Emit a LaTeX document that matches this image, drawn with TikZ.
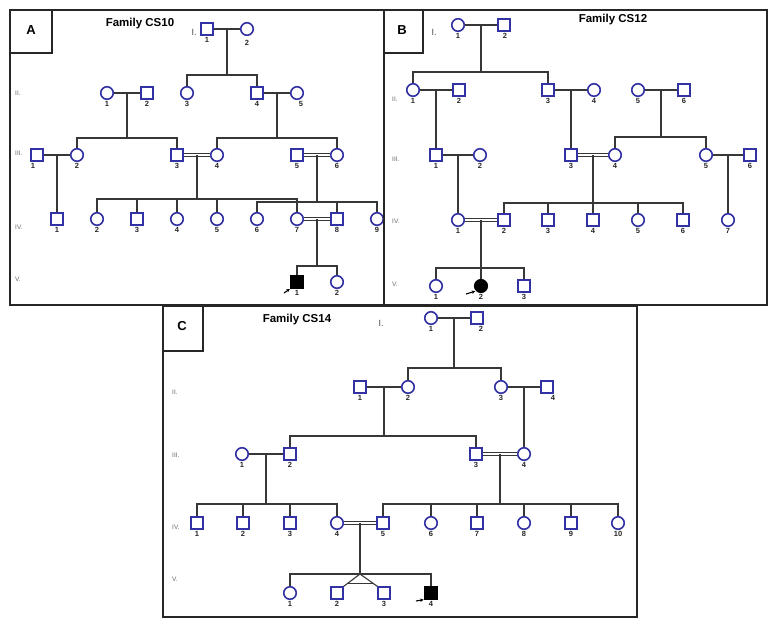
\documentclass[tikz,border=0pt]{standalone}
\usepackage{fontspec}
\setmainfont{Liberation Sans}
\usetikzlibrary{calc,arrows.meta}
\definecolor{pblue}{RGB}{50,50,165}
\definecolor{lgray}{RGB}{55,55,55}
\begin{document}
\begin{tikzpicture}[x=1pt,y=-1pt,
  male/.style={rectangle, draw=pblue, line width=1.6pt, minimum size=11.5pt, inner sep=0pt},
  female/.style={circle, draw=pblue, line width=1.6pt, minimum size=12.5pt, inner sep=0pt},
  affm/.style={male, draw=black, fill=black},
  afff/.style={female, draw=black, fill=black},
  num/.style={font=\fontsize{7.5}{8}\selectfont\bfseries, text=black!85, inner sep=1.5pt},
  gen/.style={font=\fontsize{6.5}{7}\selectfont, text=black!60, anchor=west, inner sep=0pt},
  genI/.style={font=\fontsize{9}{10}\selectfont, text=black!70, inner sep=0pt},
  kin/.style={draw=lgray, line width=1.1pt},
  cons/.style={draw=lgray, line width=0.9pt, double=white, double distance=1.8pt},
  proband/.style={draw=black, line width=1.1pt, -{Stealth[length=3.5pt,width=3.5pt]}, shorten >=0.8pt},
  panelbox/.style={draw=black!85, line width=2.2pt},
  letter/.style={font=\fontsize{13}{14}\selectfont\bfseries},
  title/.style={font=\fontsize{11.5}{13}\selectfont\bfseries}]
\useasboundingbox (0,0) rectangle (780,630);

\draw[panelbox] (10,10) rectangle (384,305);
\draw[panelbox] (10,10) rectangle (52,53);
\node[letter] (aL) at (31,30) {A};
\node[title] (aT) at (140,24) {Family CS10};
\node[genI] (ag1) at (194,32) {I.};
\node[gen] (ag2) at (15,93) {II.};
\node[gen] (ag3) at (15,153) {III.};
\node[gen] (ag4) at (15,227) {IV.};
\node[gen] (ag5) at (15,279) {V.};
\node[male, label={[num]below:1}] (a11) at (207,29) {};
\node[female, label={[num, yshift=-3pt]below:2}] (a12) at (247,29) {};
\node[female, label={[num]below:1}] (a21) at (107,93) {};
\node[male, label={[num]below:2}] (a22) at (147,93) {};
\node[female, label={[num]below:3}] (a23) at (187,93) {};
\node[male, label={[num]below:4}] (a24) at (257,93) {};
\node[female, label={[num, xshift=4pt]below:5}] (a25) at (297,93) {};
\node[male, label={[num, xshift=-4pt]below:1}] (a31) at (37,155) {};
\node[female, label={[num]below:2}] (a32) at (77,155) {};
\node[male, label={[num]below:3}] (a33) at (177,155) {};
\node[female, label={[num]below:4}] (a34) at (217,155) {};
\node[male, label={[num]below:5}] (a35) at (297,155) {};
\node[female, label={[num]below:6}] (a36) at (337,155) {};
\node[male, label={[num]below:1}] (a41) at (57,219) {};
\node[female, label={[num]below:2}] (a42) at (97,219) {};
\node[male, label={[num]below:3}] (a43) at (137,219) {};
\node[female, label={[num]below:4}] (a44) at (177,219) {};
\node[female, label={[num]below:5}] (a45) at (217,219) {};
\node[female, label={[num]below:6}] (a46) at (257,219) {};
\node[female, label={[num]below:7}] (a47) at (297,219) {};
\node[male, label={[num]below:8}] (a48) at (337,219) {};
\node[female, label={[num]below:9}] (a49) at (377,219) {};
\node[affm, label={[num]below:1}] (a51) at (297,282) {};
\node[female, label={[num]below:2}] (a52) at (337,282) {};
\draw[kin] (a11) -- (a12);
\draw[kin] ($(a11)!.5!(a12)$) coordinate (am1) -- ++(0,46) coordinate (as1);
\draw[kin] (a23) |- (as1) -| (a24);
\draw[kin] (a21) -- (a22);
\draw[kin] ($(a21)!.5!(a22)$) coordinate (am2) -- ++(0,45) coordinate (as2);
\draw[kin] (a32) |- (as2) -| (a33);
\draw[kin] (a24) -- (a25);
\draw[kin] ($(a24)!.5!(a25)$) coordinate (am3) -- ++(0,45) coordinate (as3);
\draw[kin] (a34) |- (as3) -| (a36);
\draw[kin] (a31) -- (a32);
\draw[kin] ($(a31)!.5!(a32)$) coordinate (am4) -- (a41);
\draw[cons] (a33) -- (a34);
\draw[kin] ($(a33)!.5!(a34)$) coordinate (am5) -- ++(0,44) coordinate (as5);
\draw[kin] (a42) |- (as5) -| (a47);
\draw[kin] (a43) -- (a43 |- as5);
\draw[kin] (a44) -- (a44 |- as5);
\draw[kin] (a45) -- (a45 |- as5);
\draw[cons] (a35) -- (a36);
\draw[kin] ($(a35)!.5!(a36)$) coordinate (am6) -- ++(0,47) coordinate (as6);
\draw[kin] (a46) |- (as6) -| (a49);
\draw[kin] (a48) -- (a48 |- as6);
\draw[cons] (a47) -- (a48);
\draw[kin] ($(a47)!.5!(a48)$) coordinate (am7) -- ++(0,47) coordinate (as7);
\draw[kin] (a51) |- (as7) -| (a52);
\coordinate (ap) at (284,293);
\draw[proband] (ap) -- (a51.south west);

\draw[panelbox] (384,10) rectangle (767,305);
\draw[panelbox] (384,10) rectangle (423,53);
\node[letter] (bL) at (402,30) {B};
\node[title] (bT) at (613,20) {Family CS12};
\node[genI] (bg1) at (434,32) {I.};
\node[gen] (bg2) at (392,99) {II.};
\node[gen] (bg3) at (392,159) {III.};
\node[gen] (bg4) at (392,221) {IV.};
\node[gen] (bg5) at (392,284) {V.};
\node[female, label={[num]below:1}] (b11) at (458,25) {};
\node[male, label={[num, xshift=1pt]below:2}] (b12) at (504,25) {};
\node[female, label={[num]below:1}] (b21) at (413,90) {};
\node[male, label={[num]below:2}] (b22) at (459,90) {};
\node[male, label={[num]below:3}] (b23) at (548,90) {};
\node[female, label={[num]below:4}] (b24) at (594,90) {};
\node[female, label={[num]below:5}] (b25) at (638,90) {};
\node[male, label={[num]below:6}] (b26) at (684,90) {};
\node[male, label={[num]below:1}] (b31) at (436,155) {};
\node[female, label={[num]below:2}] (b32) at (480,155) {};
\node[male, label={[num]below:3}] (b33) at (571,155) {};
\node[female, label={[num]below:4}] (b34) at (615,155) {};
\node[female, label={[num]below:5}] (b35) at (706,155) {};
\node[male, label={[num]below:6}] (b36) at (750,155) {};
\node[female, label={[num]below:1}] (b41) at (458,220) {};
\node[male, label={[num]below:2}] (b42) at (504,220) {};
\node[male, label={[num]below:3}] (b43) at (548,220) {};
\node[male, label={[num]below:4}] (b44) at (593,220) {};
\node[female, label={[num]below:5}] (b45) at (638,220) {};
\node[male, label={[num]below:6}] (b46) at (683,220) {};
\node[female, label={[num]below:7}] (b47) at (728,220) {};
\node[female, label={[num]below:1}] (b51) at (436,286) {};
\node[afff, label={[num]below:2}] (b52) at (481,286) {};
\node[male, label={[num]below:3}] (b53) at (524,286) {};
\draw[kin] (b11) -- (b12);
\draw[kin] ($(b11)!.5!(b12)$) coordinate (bm1) -- ++(0,47) coordinate (bs1);
\draw[kin] (b21) |- (bs1) -| (b23);
\draw[kin] (b21) -- (b22);
\draw[kin] ($(b21)!.5!(b22)$) coordinate (bm2) -- (b31);
\draw[kin] (b23) -- (b24);
\draw[kin] ($(b23)!.5!(b24)$) coordinate (bm3) -- (b33);
\draw[kin] (b25) -- (b26);
\draw[kin] ($(b25)!.5!(b26)$) coordinate (bm4) -- ++(0,47) coordinate (bs4);
\draw[kin] (b34) |- (bs4) -| (b35);
\draw[kin] (b31) -- (b32);
\draw[kin] ($(b31)!.5!(b32)$) coordinate (bm5) -- (b41);
\draw[cons] (b33) -- (b34);
\draw[kin] ($(b33)!.5!(b34)$) coordinate (bm6) -- ++(0,48) coordinate (bs6);
\draw[kin] (b42) |- (bs6) -| (b46);
\draw[kin] (b43) -- (b43 |- bs6);
\draw[kin] (b44) -- (b44 |- bs6);
\draw[kin] (b45) -- (b45 |- bs6);
\draw[kin] (b35) -- (b36);
\draw[kin] ($(b35)!.5!(b36)$) coordinate (bm7) -- (b47);
\draw[cons] (b41) -- (b42);
\draw[kin] ($(b41)!.5!(b42)$) coordinate (bm8) -- ++(0,48) coordinate (bs8);
\draw[kin] (b51) |- (bs8) -| (b53);
\draw[kin] (b52) -- (b52 |- bs8);
\coordinate (bp) at (466,294);
\draw[proband] (bp) -- (b52.south west);

\draw[panelbox] (163,306) rectangle (637,617);
\draw[panelbox] (163,306) rectangle (203,351);
\node[letter] (cL) at (182,326) {C};
\node[title] (cT) at (297,320) {Family CS14};
\node[genI] (cg1) at (381,323) {I.};
\node[gen] (cg2) at (172,392) {II.};
\node[gen] (cg3) at (172,455) {III.};
\node[gen] (cg4) at (172,527) {IV.};
\node[gen] (cg5) at (172,579) {V.};
\node[female, label={[num]below:1}] (c11) at (431,318) {};
\node[male, label={[num, xshift=4pt]below:2}] (c12) at (477,318) {};
\node[male, label={[num]below:1}] (c21) at (360,387) {};
\node[female, label={[num]below:2}] (c22) at (408,387) {};
\node[female, label={[num]below:3}] (c23) at (501,387) {};
\node[male, label={[num, xshift=6pt]below:4}] (c24) at (547,387) {};
\node[female, label={[num]below:1}] (c31) at (242,454) {};
\node[male, label={[num]below:2}] (c32) at (290,454) {};
\node[male, label={[num]below:3}] (c33) at (476,454) {};
\node[female, label={[num]below:4}] (c34) at (524,454) {};
\node[male, label={[num]below:1}] (c41) at (197,523) {};
\node[male, label={[num]below:2}] (c42) at (243,523) {};
\node[male, label={[num]below:3}] (c43) at (290,523) {};
\node[female, label={[num]below:4}] (c44) at (337,523) {};
\node[male, label={[num]below:5}] (c45) at (383,523) {};
\node[female, label={[num]below:6}] (c46) at (431,523) {};
\node[male, label={[num]below:7}] (c47) at (477,523) {};
\node[female, label={[num]below:8}] (c48) at (524,523) {};
\node[male, label={[num]below:9}] (c49) at (571,523) {};
\node[female, label={[num]below:10}] (c410) at (618,523) {};
\node[female, label={[num]below:1}] (c51) at (290,593) {};
\node[male, label={[num]below:2}] (c52) at (337,593) {};
\node[male, label={[num]below:3}] (c53) at (384,593) {};
\node[affm, label={[num]below:4}] (c54) at (431,593) {};
\draw[kin] (c11) -- (c12);
\draw[kin] ($(c11)!.5!(c12)$) coordinate (cm1) -- ++(0,50) coordinate (cs1);
\draw[kin] (c22) |- (cs1) -| (c23);
\draw[kin] (c21) -- (c22);
\draw[kin] ($(c21)!.5!(c22)$) coordinate (cm2) -- ++(0,49) coordinate (cs2);
\draw[kin] (c32) |- (cs2) -| (c33);
\draw[kin] (c23) -- (c24);
\draw[kin] ($(c23)!.5!(c24)$) coordinate (cm3) -- (c34);
\draw[kin] (c31) -- (c32);
\draw[kin] ($(c31)!.5!(c32)$) coordinate (cm4) -- ++(0,50) coordinate (cs4);
\draw[kin] (c41) |- (cs4) -| (c44);
\draw[kin] (c42) -- (c42 |- cs4);
\draw[kin] (c43) -- (c43 |- cs4);
\draw[cons] (c33) -- (c34);
\draw[kin] ($(c33)!.5!(c34)$) coordinate (cm5) -- ++(0,50) coordinate (cs5);
\draw[kin] (c45) |- (cs5) -| (c410);
\draw[kin] (c46) -- (c46 |- cs5);
\draw[kin] (c47) -- (c47 |- cs5);
\draw[kin] (c48) -- (c48 |- cs5);
\draw[kin] (c49) -- (c49 |- cs5);
\draw[cons] (c44) -- (c45);
\draw[kin] ($(c44)!.5!(c45)$) coordinate (cm6) -- ++(0,51) coordinate (cs6);
\draw[kin] (c51) |- (cs6) -| (c54);
\draw[kin] (c52.north east) -- (cs6) -- (c53.north west);
\draw[kin] ($(cs6)!.75!(c52.north east)$) -- ($(cs6)!.75!(c53.north west)$);
\coordinate (cp) at (416,601);
\draw[proband] (cp) -- (c54.south west);
\end{tikzpicture}
\end{document}
